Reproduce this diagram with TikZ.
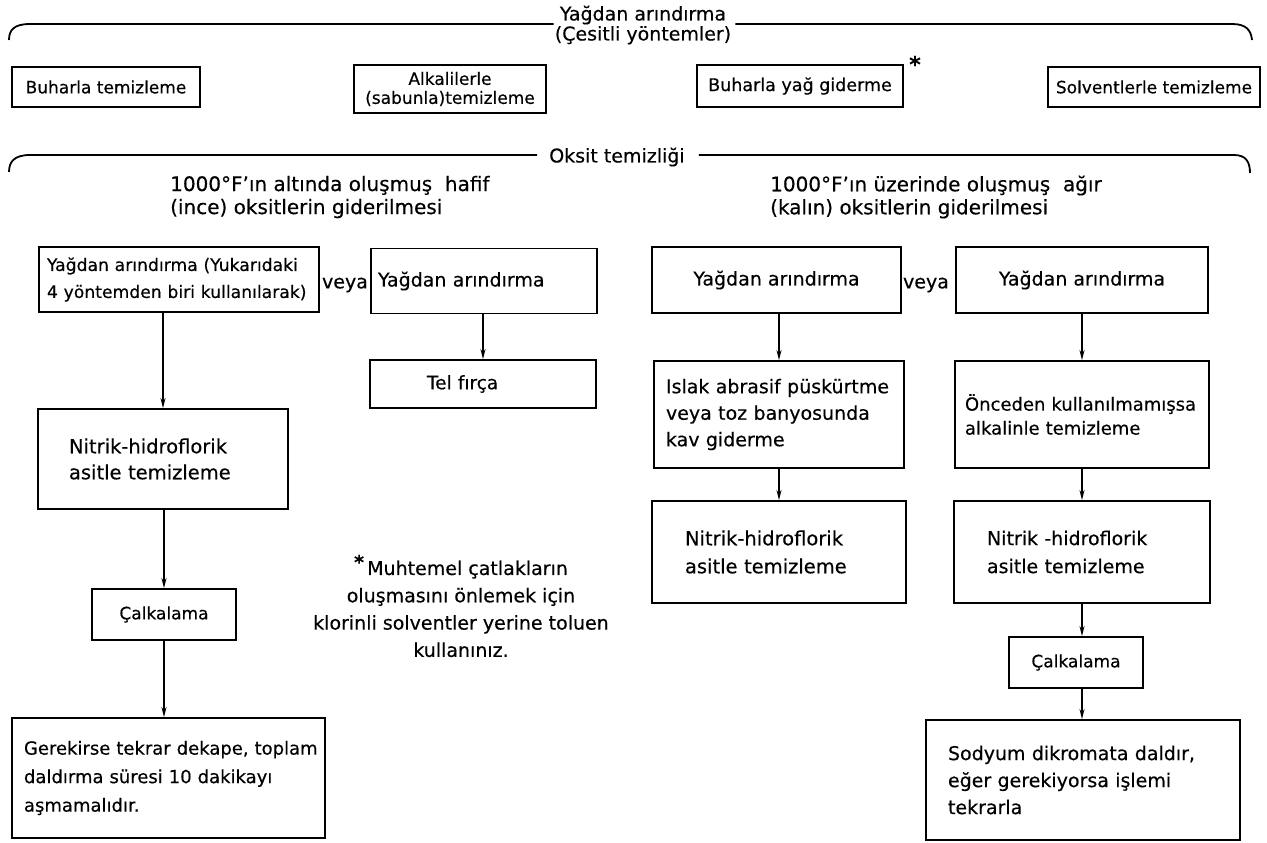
\documentclass[tikz,border=0pt]{standalone}
\usepackage{fontspec}
\setmainfont{DejaVu Sans}[FakeBold=0.4]
\usetikzlibrary{arrows.meta,calc}
\newcommand\fsn{\fontsize{18.5}{26}\selectfont}
\newcommand\fsr{\fontsize{17}{19}\selectfont}
\newcommand\fsl{\fontsize{19}{20}\selectfont}
\begin{document}
\begin{tikzpicture}[x=1pt,y=-1pt,
  every node/.style={inner sep=0pt, font=\fsn},
  box/.style={draw, line width=1.8pt, inner sep=0pt, align=center},
  lbox/.style={draw, line width=1.8pt, align=left},
  arr/.style={line width=1.8pt, -{Stealth[length=10pt,width=5pt]}},
  brace/.style={line width=1.8pt},
  txt/.style={align=left}]
\useasboundingbox (0,0) rectangle (1267,843);

% ---- top brace: Yagdan arindirma
\node[align=center, font=\fsl] (topl) at (643,25) {Yağdan arındırma\\(Çesitli yöntemler)};
\draw[brace] (9,40) .. controls (9,30) and (14,24) .. (30,24) -- ($(topl.west)+(-1,-1)$);
\draw[brace] ($(topl.east)+(4,-1)$) -- (1232,24) .. controls (1246,24) and (1251,30) .. (1252,40);

\node[box, minimum width=188, minimum height=40, font=\fsr] (b1) at (106,87) {Buharla temizleme};
\node[box, minimum width=192, minimum height=48, font=\fsr] (b2) at (450,89) {Alkalilerle\\(sabunla)temizleme};
\node[box, minimum width=206, minimum height=42, font=\fontsize{17.5}{19}\selectfont] (b3) at (800,86) {Buharla yağ giderme};
\node[font=\bfseries\fontsize{22}{22}\selectfont] (ast1) at (915,64) {*};
\node[box, minimum width=212, minimum height=40, font=\fsr] (b4) at (1154,87) {Solventlerle temizleme};

% ---- second brace: Oksit temizligi
\node[font=\fsl] (oks) at (617,157) {Oksit temizliği};
\draw[brace] (9,172) .. controls (9,162) and (14,155) .. (30,155) -- ($(oks.west)+(-12,-2)$);
\draw[brace] ($(oks.east)+(14,-2)$) -- (1234,155) .. controls (1246,155) and (1250,162) .. (1250,173);

\node[txt, anchor=west, font=\fontsize{20}{23}\selectfont] (h1) at (170,197) {1000°F'ın altında oluşmuş \ hafif\\(ince) oksitlerin giderilmesi};
\node[txt, anchor=west, font=\fontsize{20}{23}\selectfont] (h2) at (770,197) {1000°F'ın üzerinde oluşmuş \ ağır\\(kalın) oksitlerin giderilmesi};

% ---- left column
\node[lbox, minimum width=280, minimum height=65, inner xsep=8, text width=264, font=\fontsize{17.2}{27}\selectfont] (A1) at (179,279.5)
  {\mbox{Yağdan arındırma (Yukarıdaki}\\\mbox{4 yöntemden biri kullanılarak)}};
\node[font=\fsl] (veya1) at (345,285) {veya};
\node[lbox, minimum width=226, minimum height=65, inner xsep=7, text width=212, font=\fsl] (B1) at (484,281) {Yağdan arındırma};
\node[lbox, minimum width=226, minimum height=48, inner xsep=57, text width=112] (B2) at (483,384) {Tel fırça};
\node[lbox, minimum width=250, minimum height=100, inner xsep=31, text width=188, font=\fontsize{19.5}{26}\selectfont] (A2) at (163,459)
  {\mbox{Nitrik-hidroflorik}\\\mbox{asitle temizleme}};
\node[box, minimum width=144, minimum height=51, font=\fontsize{17}{19}\selectfont] (A3) at (164,614.5) {Çalkalama};
\node[lbox, minimum width=313, minimum height=120, inner xsep=12, text width=289, font=\fontsize{18}{28.5}\selectfont] (A4) at (168.5,778)
  {\mbox{Gerekirse tekrar dekape, toplam}\\\mbox{daldırma süresi 10 dakikayı}\\\mbox{aşmamalıdır.}};

\draw[arr] (A2.north |- A1.south) -- (A2.north);
\draw[arr] (A3.north |- A2.south) -- (A3.north);
\draw[arr] (A3.south) -- (A3.south |- A4.north);
\draw[arr] (B1.south -| B2.north) -- (B2.north);

% ---- note
\node[align=center, font=\fontsize{19}{27.3}\selectfont] (note) at (461,606)
  {\raisebox{6pt}{\textbf{*}}\,Muhtemel çatlakların\\oluşmasını önlemek için\\klorinli solventler yerine toluen\\kullanınız.};

% ---- right column
\node[box, minimum width=249, minimum height=66, font=\fsl] (C1) at (776.5,280) {Yağdan arındırma};
\node[font=\fsl] (veya2) at (926,285) {veya};
\node[box, minimum width=252, minimum height=66, font=\fsl] (D1) at (1082,280) {Yağdan arındırma};
\node[lbox, minimum width=250, minimum height=107, inner xsep=12, text width=226, font=\fontsize{19}{26.5}\selectfont] (C2) at (779,414.5)
  {\mbox{Islak abrasif püskürtme}\\\mbox{veya toz banyosunda}\\\mbox{kav giderme}};
\node[lbox, minimum width=254, minimum height=107, inner xsep=10, text width=234, font=\fontsize{18}{24}\selectfont] (D2) at (1082,414.5)
  {\mbox{Önceden kullanılmamışsa}\\\mbox{alkalinle temizleme}};
\node[lbox, minimum width=254, minimum height=102, inner xsep=33, text width=188, font=\fontsize{19.5}{28}\selectfont] (C3) at (779,552)
  {\mbox{Nitrik-hidroflorik}\\\mbox{asitle temizleme}};
\node[lbox, minimum width=256, minimum height=102, inner xsep=33, text width=190, font=\fontsize{19}{28}\selectfont] (D3) at (1082,552)
  {\mbox{Nitrik -hidroflorik}\\\mbox{asitle temizleme}};
\node[box, minimum width=134, minimum height=51, font=\fontsize{17}{19}\selectfont] (D4) at (1076,662.5) {Çalkalama};
\node[lbox, minimum width=314, minimum height=120, inner xsep=22, text width=270, font=\fontsize{19}{27}\selectfont] (D5) at (1083,780)
  {\mbox{Sodyum dikromata daldır,}\\\mbox{eğer gerekiyorsa işlemi}\\\mbox{tekrarla}};

\draw[arr] (C2.north |- C1.south) -- (C2.north);
\draw[arr] (C2.south) -- (C2.south |- C3.north);
\draw[arr] (D1.south) -- (D1.south |- D2.north);
\draw[arr] (D2.south) -- (D2.south |- D3.north);
\draw[arr] (D3.south) -- (D3.south |- D4.north);
\draw[arr] (D3.south |- D4.south) -- (D3.south |- D5.north);
\end{tikzpicture}
\end{document}
